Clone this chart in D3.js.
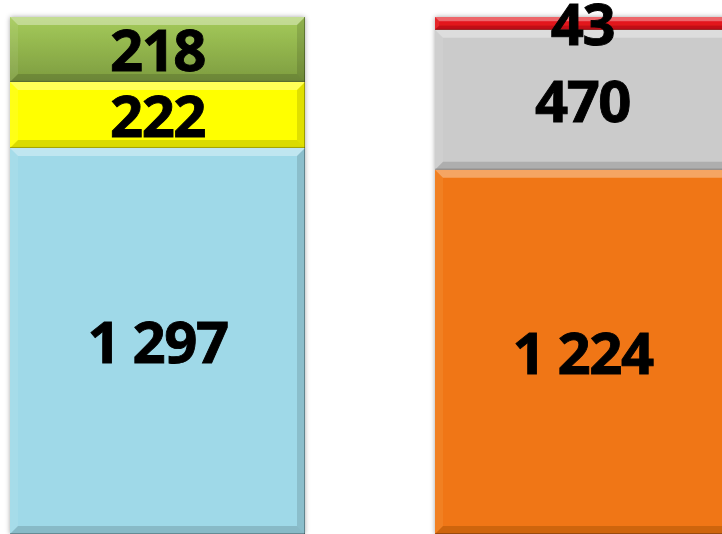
<!DOCTYPE html>
<html>
<head>
<meta charset="utf-8">
<script src="https://cdn.jsdelivr.net/npm/d3@7"></script>
<style>
  html, body { margin: 0; padding: 0; background: #fff; overflow: hidden; }
  svg { display: block; }
  .label { font-family: 'Open Sans', sans-serif; font-weight: 700; fill: #000; stroke: #000; stroke-width: 0.9; }
</style>
</head>
<body>
<svg width="722" height="534"></svg>
<script>
// data
const categories = ['left', 'right'];
const leftValues = [1297, 222, 218];
const rightValues = [1224, 470, 43];

const leftColors = ['#9fd9e8', '#ffff00', '#8fb14a'];
const rightColors = ['#f07612', '#cbcbcb', '#e3141b'];

const fmt = d3.formatLocale({ decimal: ',', thousands: ' ', grouping: [3], currency: ['', ''] }).format(',');

const svg = d3.select('svg');
const defs = svg.append('defs');

const shadow = defs.append('filter').attr('id', 'shadow')
  .attr('x', '-10%').attr('y', '-10%').attr('width', '120%').attr('height', '120%');
shadow.append('feDropShadow')
  .attr('dx', 0).attr('dy', 0).attr('stdDeviation', 2.5)
  .attr('flood-color', '#000').attr('flood-opacity', 0.35);

// green top segment has a visible vertical gradient
const grad = defs.append('linearGradient').attr('id', 'greenGrad')
  .attr('x1', 0).attr('y1', 0).attr('x2', 0).attr('y2', 1);
grad.append('stop').attr('offset', '0%').attr('stop-color', '#a5cb5a');
grad.append('stop').attr('offset', '100%').attr('stop-color', '#7d9c3f');

const x = d3.scaleBand()
  .domain(categories)
  .range([10, 730])
  .paddingInner(130 / 425);

const total = d3.max([d3.sum(leftValues), d3.sum(rightValues)]);
const y = d3.scaleLinear()
  .domain([0, total])
  .range([534, 17]);

const bars = [
  { key: 'left', values: leftValues, colors: leftColors },
  { key: 'right', values: rightValues, colors: rightColors },
];

bars.forEach((bar) => {
  let acc = 0;
  const segs = bar.values.map((v, i) => {
    const s = { v, y0: acc, y1: acc + v, color: bar.colors[i], i };
    acc += v;
    return s;
  });

  const g = svg.append('g').attr('filter', 'url(#shadow)');
  const x0 = x(bar.key);
  const x1 = x0 + x.bandwidth();

  segs.forEach((s) => {
    const top = y(s.y1);
    const bot = y(s.y0);
    const h = bot - top;
    const b = Math.min(8, h / 3);
    const fill = (bar.key === 'left' && s.i === 2) ? 'url(#greenGrad)' : s.color;

    g.append('rect')
      .attr('x', x0).attr('y', top)
      .attr('width', x1 - x0).attr('height', h)
      .attr('fill', fill);

    // bevel faces
    const faces = [
      { pts: [[x0, top], [x1, top], [x1 - b, top + b], [x0 + b, top + b]], c: '#fff', o: 0.35 },
      { pts: [[x0, top], [x0 + b, top + b], [x0 + b, bot - b], [x0, bot]], c: '#fff', o: 0.08 },
      { pts: [[x1, top], [x1, bot], [x1 - b, bot - b], [x1 - b, top + b]], c: '#000', o: 0.12 },
      { pts: [[x0, bot], [x1, bot], [x1 - b, bot - b], [x0 + b, bot - b]], c: '#000', o: 0.14 },
    ];
    faces.forEach((f) => {
      g.append('polygon')
        .attr('points', f.pts.map((p) => p.join(',')).join(' '))
        .attr('fill', f.c)
        .attr('fill-opacity', f.o);
    });
    g.append('line')
      .attr('x1', x0).attr('x2', x1)
      .attr('y1', bot - 0.5).attr('y2', bot - 0.5)
      .attr('stroke', '#000').attr('stroke-opacity', 0.25);
    g.append('line')
      .attr('x1', x1 - 0.5).attr('x2', x1 - 0.5)
      .attr('y1', top).attr('y2', bot)
      .attr('stroke', '#000').attr('stroke-opacity', 0.3);
  });

  svg.append('g').selectAll('text')
    .data(segs)
    .enter()
    .append('text')
    .attr('class', 'label')
    .attr('x', (x0 + x1) / 2)
    .attr('y', (d) => (y(d.y0) + y(d.y1)) / 2 + 22)
    .attr('text-anchor', 'middle')
    .attr('font-size', 58)
    .attr('letter-spacing', -1.5)
    .text((d) => fmt(d.v));
});
</script>
</body>
</html>
